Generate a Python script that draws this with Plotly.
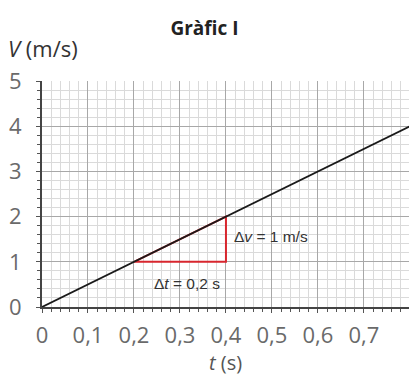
import plotly.graph_objects as go

# velocity-time data: uniform acceleration line
t_vals = [0, 0.82]
v_vals = [0, 4.1]

# slope triangle (Δt, Δv)
tri_t = [0.2, 0.4, 0.4, 0.2]
tri_v = [1, 2, 1, 1]

x_ticks = [0, 0.1, 0.2, 0.3, 0.4, 0.5, 0.6, 0.7]
x_labels = ["0", "0,1", "0,2", "0,3", "0,4", "0,5", "0,6", "0,7"]
y_ticks = [0, 1, 2, 3, 4, 5]

font_family = "Open Sans, Noto Sans, sans-serif"
note_font = "Liberation Sans, Arial, sans-serif"

fig = go.Figure()
fig.add_trace(go.Scatter(x=tri_t, y=tri_v, mode="lines",
                         line=dict(color="#d8262e", width=2), hoverinfo="skip"))
fig.add_trace(go.Scatter(x=t_vals, y=v_vals, mode="lines",
                         line=dict(color="#1a1a1a", width=1.8), hoverinfo="skip"))

grid_major = "#a8a8a8"
grid_minor = "#dadada"

fig.update_xaxes(
    range=[0, 0.798], tickvals=x_ticks, ticktext=x_labels,
    showgrid=True, gridcolor=grid_major, gridwidth=1,
    minor=dict(dtick=0.02, showgrid=True, gridcolor=grid_minor, gridwidth=1,
               ticks="outside", ticklen=3, tickcolor="#555"),
    ticks="outside", ticklen=4, tickcolor="#555",
    ticklabelstandoff=4,
    showline=True, linecolor="#444", linewidth=2,
    zeroline=False, mirror=False,
    tickfont=dict(size=22, color="#6a6a6a", family=font_family),
    title=dict(text="<i>t</i> (s)", font=dict(size=20, color="#555", family=font_family),
               standoff=2),
)
fig.update_yaxes(
    range=[0, 5], tickvals=y_ticks,
    showgrid=True, gridcolor=grid_major, gridwidth=1,
    minor=dict(dtick=0.2, showgrid=True, gridcolor=grid_minor, gridwidth=1,
               ticks="outside", ticklen=3, tickcolor="#555"),
    ticks="outside", ticklen=4, tickcolor="#555",
    ticklabelstandoff=10,
    showline=True, linecolor="#444", linewidth=2,
    zeroline=False,
    tickfont=dict(size=22, color="#6a6a6a", family=font_family),
)

fig.add_annotation(x=0.414, y=1.55, xref="x", yref="y", xanchor="left", yanchor="middle",
                   text="Δ<i>v</i> = 1 m/s", showarrow=False,
                   font=dict(size=15.5, color="#333", family=note_font))
fig.add_annotation(x=0.316, y=0.53, xref="x", yref="y", xanchor="center", yanchor="middle",
                   text="Δ<i>t</i> = 0,2 s", showarrow=False,
                   font=dict(size=15.5, color="#333", family=note_font))

fig.update_layout(
    width=409, height=381,
    margin=dict(l=42, r=0, t=81, b=74),
    plot_bgcolor="white", paper_bgcolor="white",
    showlegend=False,
    separators=", ",
    title=dict(text="<b>Gràfic I</b>", x=0.5, xanchor="center", y=0.925, yanchor="middle",
               font=dict(size=19, color="#222", family=font_family)),
)
fig.add_annotation(x=0, y=1, xref="paper", yref="paper", xanchor="left", yanchor="bottom",
                   xshift=-36, yshift=16, showarrow=False,
                   text="<i>V</i> (m/s)", font=dict(size=22, color="#333", family=font_family))

fig.write_html("out.html")
